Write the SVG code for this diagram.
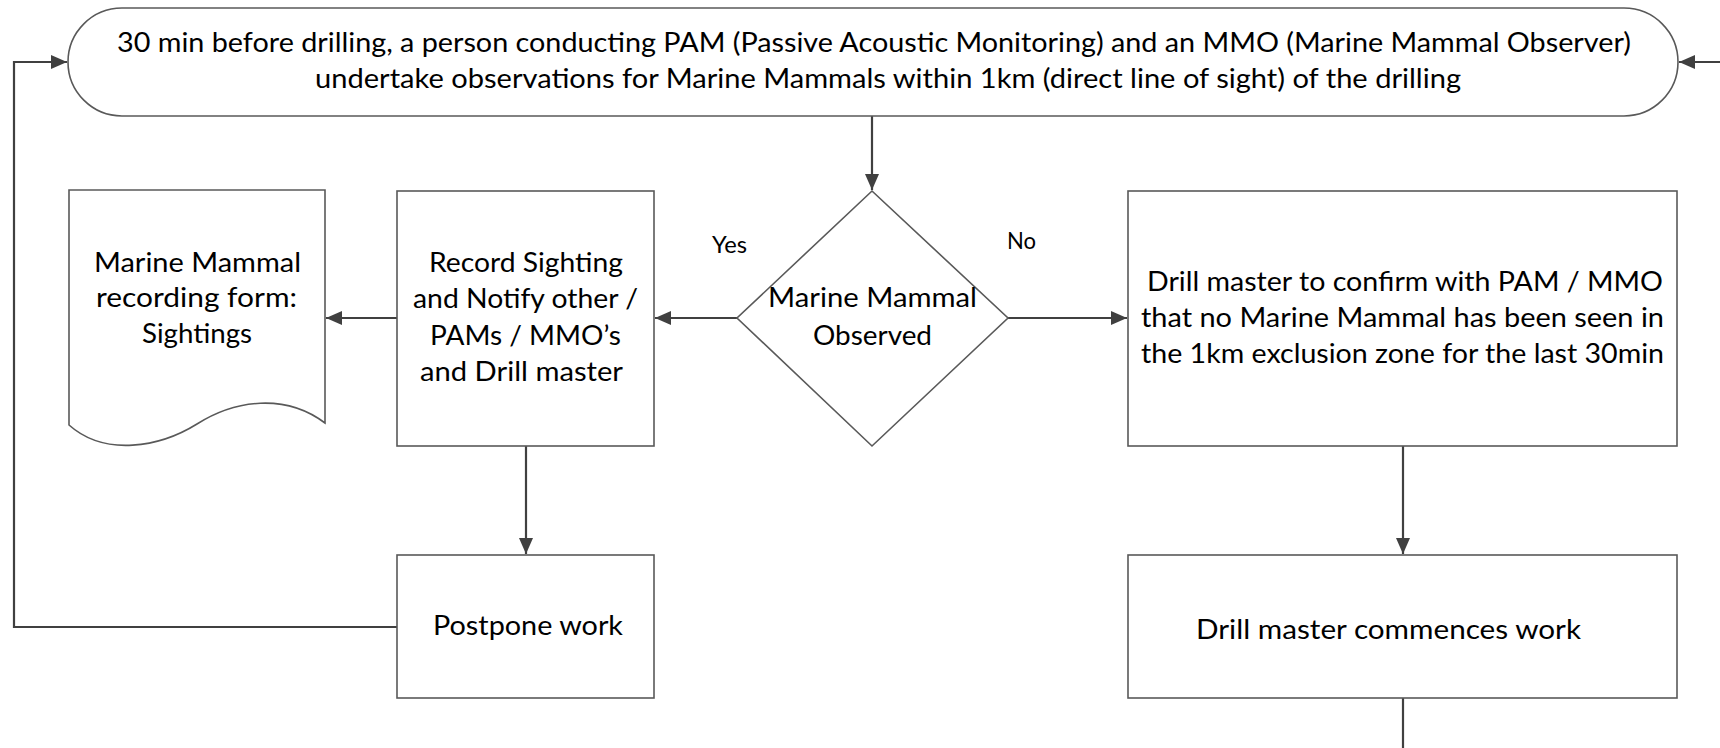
<svg xmlns="http://www.w3.org/2000/svg" width="1720" height="748" viewBox="0 0 1720 748">
<style>
.shape{fill:#fff;stroke:#595959;stroke-width:1.6}
.conn{fill:none;stroke:#404040;stroke-width:2.2}
text{font-family:Lato,"Open Sans","Liberation Sans",sans-serif;font-size:27px;fill:#000}
.lbl{font-size:24px}
</style>
<defs>
<marker id="ah" markerUnits="userSpaceOnUse" markerWidth="17" markerHeight="14" refX="16" refY="7" orient="auto">
<path d="M0,0 L16,7 L0,14 Z" fill="#404040"/>
</marker>
</defs>
<rect width="1720" height="748" fill="#fff"/>
<g id="connectors">
<line class="conn" x1="872" y1="116" x2="872" y2="190" marker-end="url(#ah)"/>
<line class="conn" x1="737" y1="318" x2="655" y2="318" marker-end="url(#ah)"/>
<line class="conn" x1="397" y1="318" x2="326" y2="318" marker-end="url(#ah)"/>
<line class="conn" x1="1008" y1="318" x2="1127" y2="318" marker-end="url(#ah)"/>
<line class="conn" x1="526" y1="446" x2="526" y2="554" marker-end="url(#ah)"/>
<line class="conn" x1="1403" y1="446" x2="1403" y2="554" marker-end="url(#ah)"/>
<line class="conn" x1="1403" y1="698" x2="1403" y2="748"/>
<polyline class="conn" points="397,627 14,627 14,62 67,62" marker-end="url(#ah)"/>
<line class="conn" x1="1720" y1="62" x2="1679" y2="62" marker-end="url(#ah)"/>
<text class="lbl" x="712" y="253" textLength="35" lengthAdjust="spacingAndGlyphs">Yes</text>
<text class="lbl" x="1007" y="249" textLength="29" lengthAdjust="spacingAndGlyphs">No</text>
</g>
<g id="start">
<rect class="shape" x="68" y="8" width="1610" height="108" rx="54" ry="54"/>
<text x="117" y="52" textLength="1514" lengthAdjust="spacingAndGlyphs">30 min before drilling, a person conducting PAM (Passive Acoustic Monitoring) and an MMO (Marine Mammal Observer)</text>
<text x="315" y="88" textLength="1146" lengthAdjust="spacingAndGlyphs">undertake observations for Marine Mammals within 1km (direct line of sight) of the drilling</text>
</g>
<g id="decision">
<polygon class="shape" points="872,191 1008,318 872,446 737,318"/>
<text x="768" y="307" textLength="209" lengthAdjust="spacingAndGlyphs">Marine Mammal</text>
<text x="813" y="345" textLength="119" lengthAdjust="spacingAndGlyphs">Observed</text>
</g>
<g id="record">
<rect class="shape" x="397" y="191" width="257" height="255"/>
<text x="429" y="272" textLength="194" lengthAdjust="spacingAndGlyphs">Record Sighting</text>
<text x="413" y="308" textLength="225" lengthAdjust="spacingAndGlyphs">and Notify other /</text>
<text x="430" y="345" textLength="191" lengthAdjust="spacingAndGlyphs">PAMs / MMO’s</text>
<text x="420" y="381" textLength="203" lengthAdjust="spacingAndGlyphs">and Drill master</text>
</g>
<g id="form">
<path class="shape" d="M69,190 H325 V423 C285,393 235,400 197,424 C160,447 105,457 69,425 Z"/>
<text x="94" y="272" textLength="207" lengthAdjust="spacingAndGlyphs">Marine Mammal</text>
<text x="96" y="307" textLength="201" lengthAdjust="spacingAndGlyphs">recording form:</text>
<text x="142" y="343" textLength="110" lengthAdjust="spacingAndGlyphs">Sightings</text>
</g>
<g id="confirm">
<rect class="shape" x="1128" y="191" width="549" height="255"/>
<text x="1147" y="291" textLength="516" lengthAdjust="spacingAndGlyphs">Drill master to confirm with PAM / MMO</text>
<text x="1141" y="327" textLength="523" lengthAdjust="spacingAndGlyphs">that no Marine Mammal has been seen in</text>
<text x="1141" y="363" textLength="523" lengthAdjust="spacingAndGlyphs">the 1km exclusion zone for the last 30min</text>
</g>
<g id="postpone">
<rect class="shape" x="397" y="555" width="257" height="143"/>
<text x="433" y="635" textLength="190" lengthAdjust="spacingAndGlyphs">Postpone work</text>
</g>
<g id="commence">
<rect class="shape" x="1128" y="555" width="549" height="143"/>
<text x="1196" y="639" textLength="385" lengthAdjust="spacingAndGlyphs">Drill master commences work</text>
</g>
</svg>
